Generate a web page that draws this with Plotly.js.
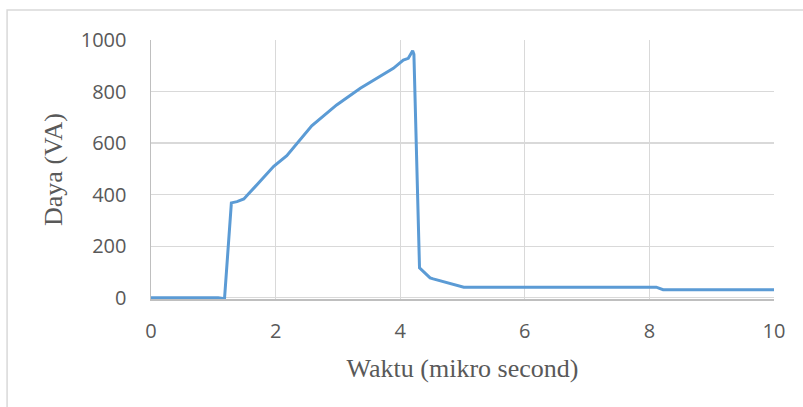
<!DOCTYPE html>
<html>
<head>
<meta charset="utf-8">
<script src="https://cdn.plot.ly/plotly-3.0.1.min.js"></script>
<style>html,body{margin:0;padding:0;background:#fff;}#chart{width:803px;height:407px;}</style>
</head>
<body>
<div id="chart"></div>
<script>
var waktu = [0, 1.08, 1.18, 1.29, 1.38, 1.49, 1.57, 1.97, 2.18, 2.58, 2.98, 3.36, 3.89, 4.05, 4.13, 4.20, 4.22, 4.31, 4.48, 4.53, 5.02, 8.11, 8.22, 10];
var daya  = [0, 0, -4, 368, 373, 383, 404, 510, 551, 667, 748, 813, 890, 922, 929, 958, 945, 116, 77, 73, 41, 41, 31, 31];
var xTicks = [0, 2, 4, 6, 8, 10];
var yTicks = [0, 200, 400, 600, 800, 1000];

var trace = {
  x: waktu, y: daya, type: 'scatter', mode: 'lines',
  line: {color: '#5b9bd5', width: 3},
  hoverinfo: 'none'
};
var tickFont = {family: 'Open Sans, sans-serif', size: 20, color: '#595959'};
var titleFont = {family: 'Liberation Serif, Times New Roman, serif', size: 26, color: '#595959'};
var layout = {
  width: 803, height: 407,
  margin: {l: 151, r: 29, t: 40, b: 108},
  paper_bgcolor: '#ffffff', plot_bgcolor: '#ffffff',
  showlegend: false,
  xaxis: {
    range: [0, 10], tickvals: xTicks, ticktext: xTicks.map(String),
    showgrid: true, gridcolor: '#d9d9d9', gridwidth: 1.3,
    showline: true, linecolor: '#bfbfbf', linewidth: 1.5,
    zeroline: false, ticks: 'outside', ticklen: 13, tickcolor: 'rgba(0,0,0,0)',
    tickfont: tickFont, automargin: false,
    title: {text: 'Waktu (mikro second)', font: titleFont, standoff: 16}
  },
  yaxis: {
    range: [-5, 1000], tickvals: yTicks, ticktext: yTicks.map(String),
    showgrid: true, gridcolor: '#d9d9d9', gridwidth: 1.3,
    showline: true, linecolor: '#bfbfbf', linewidth: 1.5,
    zeroline: false, ticks: 'outside', ticklen: 19, tickcolor: 'rgba(0,0,0,0)',
    tickfont: tickFont, automargin: false,
    title: {text: 'Daya (VA)', font: titleFont, standoff: 10}
  },
  shapes: [{
    type: 'rect', xref: 'paper', yref: 'paper',
    x0: -0.231, x1: 1.06, y0: -0.46, y1: 1.116,
    line: {color: '#d9d9d9', width: 1.5}, fillcolor: 'rgba(0,0,0,0)', layer: 'below'
  }]
};
Plotly.newPlot('chart', [trace], layout, {staticPlot: true, displayModeBar: false});
</script>
</body>
</html>
